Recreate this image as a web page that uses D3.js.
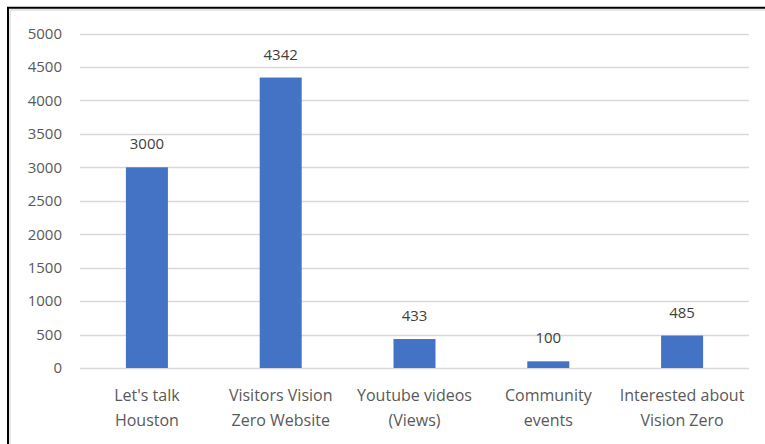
<!DOCTYPE html>
<html>
<head>
<meta charset="utf-8">
<script src="https://cdn.jsdelivr.net/npm/d3@7"></script>
<style>
  html, body { margin: 0; padding: 0; background: #fff; }
  svg { display: block; }
  text { font-family: "Open Sans", "Liberation Sans", sans-serif; }
</style>
</head>
<body>
<svg id="chart" width="765" height="444"></svg>
<script>
// Engagement counts by channel
const categories = [
  ["Let's talk", "Houston"],
  ["Visitors Vision", "Zero Website"],
  ["Youtube videos", "(Views)"],
  ["Community", "events"],
  ["Interested about", "Vision Zero"]
];
const values = [3000, 4342, 433, 100, 485];
const yTicks = [0, 500, 1000, 1500, 2000, 2500, 3000, 3500, 4000, 4500, 5000];

const svg = d3.select("#chart");
const W = 765, H = 444;
const plot = { left: 80, right: 749, top: 33.5, bottom: 368 };

// Frame around the chart area (top and left edges)
svg.append("line").attr("x1", 10).attr("x2", W).attr("y1", 10).attr("y2", 10)
  .attr("stroke", "#e6e6e6").attr("stroke-width", 2);
svg.append("line").attr("x1", 10).attr("x2", 10).attr("y1", 10).attr("y2", H)
  .attr("stroke", "#e6e6e6").attr("stroke-width", 2);
svg.append("line").attr("x1", 7).attr("x2", W).attr("y1", 7.7).attr("y2", 7.7)
  .attr("stroke", "#000").attr("stroke-width", 2);
svg.append("line").attr("x1", 8).attr("x2", 8).attr("y1", 7).attr("y2", H)
  .attr("stroke", "#000").attr("stroke-width", 2);

const x = d3.scaleBand()
  .domain(d3.range(categories.length))
  .range([plot.left, plot.right])
  .paddingInner(0.686)
  .paddingOuter(0.343);

const y = d3.scaleLinear().domain([0, 5000]).range([plot.bottom, plot.top]);

// Horizontal gridlines
svg.append("g").selectAll("line")
  .data(yTicks)
  .join("line")
  .attr("x1", plot.left).attr("x2", plot.right)
  .attr("y1", d => Math.round(y(d)) + 0.5).attr("y2", d => Math.round(y(d)) + 0.5)
  .attr("stroke", "#d9d9d9").attr("stroke-width", 1.3);

// Y axis labels
const yAxis = d3.axisLeft(y).tickValues(yTicks).tickSize(0).tickPadding(0).tickFormat(d3.format("d"));
const yg = svg.append("g").attr("transform", `translate(62,0)`).call(yAxis);
yg.select(".domain").remove();
yg.selectAll("text")
  .attr("fill", "#595959")
  .style("font-size", "15px")
  .style("font-family", "\"Open Sans\", sans-serif");

// Bars
svg.append("g").selectAll("rect")
  .data(values)
  .join("rect")
  .attr("x", (d, i) => x(i))
  .attr("width", x.bandwidth())
  .attr("y", d => y(d))
  .attr("height", d => y(0) - y(d))
  .attr("fill", "#4472c4");

// Value labels above bars
svg.append("g").selectAll("text")
  .data(values)
  .join("text")
  .attr("x", (d, i) => x(i) + x.bandwidth() / 2)
  .attr("y", d => y(d) - 18)
  .attr("text-anchor", "middle")
  .attr("fill", "#404040")
  .style("font-size", "15px")
  .text(d => d);

// Category labels, two lines each
const cat = svg.append("g").selectAll("text")
  .data(categories)
  .join("text")
  .attr("text-anchor", "middle")
  .attr("fill", "#595959")
  .style("font-size", "16px");
cat.each(function(lines, i) {
  const t = d3.select(this);
  lines.forEach((ln, k) => {
    t.append("tspan")
      .attr("x", x(i) + x.bandwidth() / 2)
      .attr("y", 401 + k * 25)
      .text(ln);
  });
});
</script>
</body>
</html>
